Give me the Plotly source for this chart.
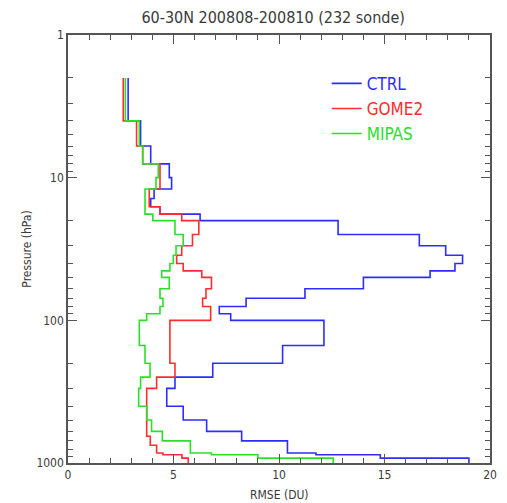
import plotly.graph_objects as go

# Layer boundaries (hPa), top to bottom
P_LEVELS = [2, 4, 6, 8, 10, 12, 14, 16, 18, 20, 25, 30, 35, 40, 45, 50, 60, 70, 80, 90,
            100, 150, 200, 250, 300, 400, 500, 600, 650, 700, 750, 850, 875, 925, 1000]

# RMSE per layer (DU)
CTRL = [2.85, 3.44, 3.92, 4.80, 4.91, 4.08, 3.92, 4.36, 6.26,
        12.8, 16.65, 17.9, 18.7, 18.34, 17.16, 14.0, 11.23, 8.44, 7.17, 7.71,
        12.13, 10.17, 6.86, 5.07, 4.68, 5.46, 6.57,
        8.23, 8.23, 10.4, 10.4, 11.75, 14.8, 19.0]
GOME2 = [2.62, 3.25, 3.54, 4.36, 4.36, 3.85, 3.85, 4.36, 5.39,
         6.2, 5.9, 5.39, 5.15, 5.46, 6.34, 6.8, 6.54, 6.38, 6.76, 6.76,
         4.83, 4.83, 5.07, 4.2, 3.73, 3.73, 3.73,
         3.73, 3.9, 3.9, 4.2, 4.5, 5.4, 5.7]
MIPAS = [2.72, 3.38, 3.54, 4.28, 4.17, 3.65, 3.65, 3.65, 4.02,
         5.07, 5.46, 5.12, 4.99, 4.83, 4.44, 4.8, 4.36, 4.5, 4.36, 3.73,
         3.38, 3.65, 3.89, 3.44, 3.35, 3.73, 3.96,
         4.47, 4.47, 5.8, 5.8, 6.8, 9.0, 12.57]

SERIES = ["CTRL", "GOME2", "MIPAS"]
COLORS = ["rgb(45,45,255)", "rgb(255,45,45)", "rgb(40,225,40)"]

X_RANGE = [0, 20]
X_TICKS = [0, 5, 10, 15, 20]
Y_TICKS = [1, 10, 100, 1000]
Y_MINOR = [m * d for d in (1, 10, 100) for m in range(2, 10)]

TITLE = "60-30N 200808-200810 (232 sonde)"
X_TITLE = "RMSE (DU)"
Y_TITLE = "Pressure (hPa)"
FONT = "Liberation Sans Narrow, DejaVu Sans Condensed, Arial, sans-serif"
TXT = "#3a3a3a"
AX = "#555"


def step_profile(vals, levels):
    xs, ys = [], []
    for i, v in enumerate(vals):
        xs += [v, v]
        ys += [levels[i], levels[i + 1]]
    return xs, ys


fig = go.Figure()
for name, vals, col in zip(SERIES, [CTRL, GOME2, MIPAS], COLORS):
    xs, ys = step_profile(vals, P_LEVELS)
    fig.add_trace(go.Scatter(
        x=xs, y=ys, mode="lines", line=dict(color=col, width=1.6),
        name=f"<span style='color:{col}'>{name}</span>"))

# invisible trace to anchor the mirrored (top/right) tick axes
fig.add_trace(go.Scatter(x=X_RANGE, y=[1000, 1], xaxis="x2", yaxis="y2",
                         mode="lines", line=dict(width=0), opacity=0,
                         showlegend=False, hoverinfo="skip"))

axis_common = dict(
    showgrid=False, zeroline=False, showline=True, linecolor=AX, linewidth=1.5,
    ticks="inside", tickcolor=AX, tickwidth=1,
    tickfont=dict(family=FONT, size=12, color=TXT),
)

x_ax = dict(range=X_RANGE, tickvals=X_TICKS, ticklen=9,
            minor=dict(dtick=1, ticks="inside", ticklen=5, tickcolor=AX), **axis_common)
y_ax = dict(type="log", range=[3, 0], tickvals=Y_TICKS, ticklen=9,
            minor=dict(tickvals=Y_MINOR, ticks="inside", ticklen=5, tickcolor=AX), **axis_common)

fig.update_layout(
    xaxis=dict(**x_ax),
    yaxis=dict(**y_ax, title=dict(text=Y_TITLE, font=dict(family=FONT, size=12, color=TXT),
                                  standoff=2)),
    xaxis2=dict(**x_ax, overlaying="x", side="top", anchor="y2", showticklabels=False),
    yaxis2=dict(**y_ax, overlaying="y", side="right", anchor="x2", showticklabels=False),
)

fig.add_annotation(text=X_TITLE, xref="paper", yref="paper", x=0.5, y=-0.075,
                   xanchor="center", yanchor="middle", showarrow=False,
                   font=dict(family=FONT, size=12, color=TXT))

fig.update_layout(
    width=491, height=495,
    margin=dict(l=60, r=9, t=27, b=40, autoexpand=False),
    paper_bgcolor="white", plot_bgcolor="white",
    title=dict(text=TITLE, x=0.54, xanchor="center", y=1 - 9 / 495, yanchor="middle",
               font=dict(family=FONT, size=16, color=TXT)),
    legend=dict(x=0.613, y=0.928, xanchor="left", yanchor="top",
                bgcolor="rgba(0,0,0,0)", font=dict(family=FONT, size=17),
                itemwidth=30),
    showlegend=True,
)

fig.write_html("out.html")
